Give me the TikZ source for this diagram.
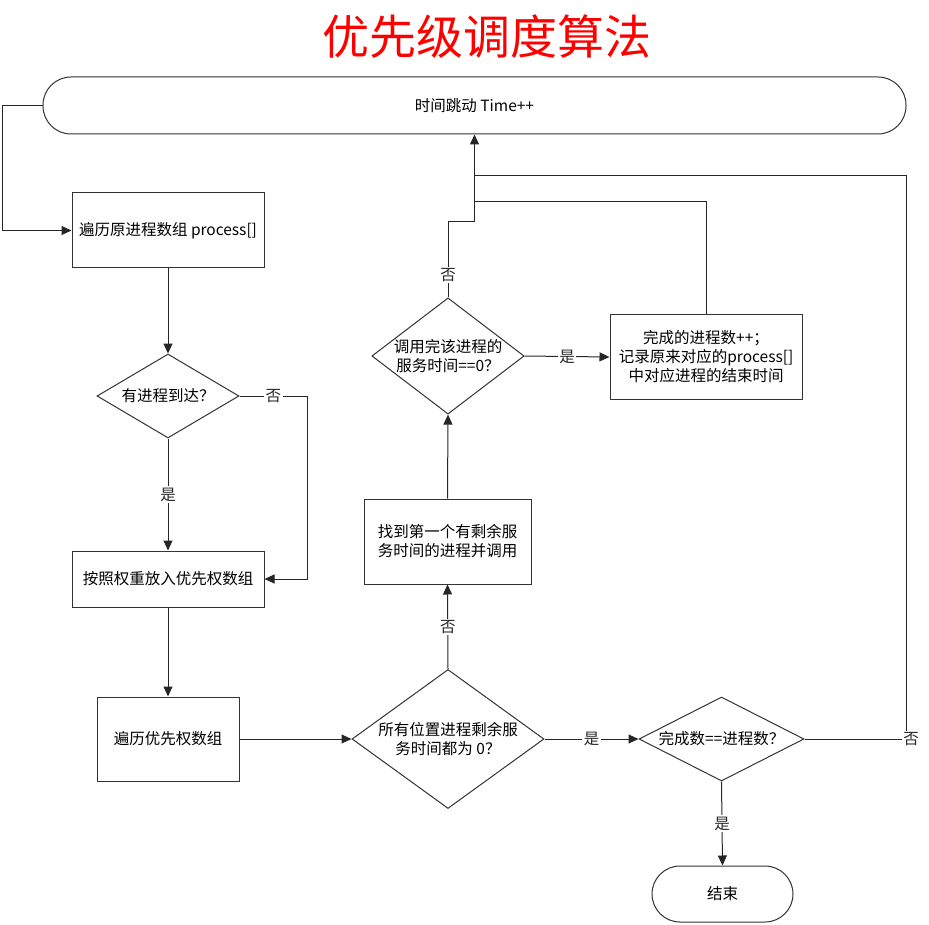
\documentclass[tikz,border=0pt]{standalone}
\usepackage{fontspec}
\setmainfont{Noto Sans CJK SC}
\usetikzlibrary{shapes.geometric,arrows.meta}
\begin{document}
\begin{tikzpicture}[x=1pt,y=-1pt,
  every node/.style={font=\fontsize{15.5}{19}\selectfont},
  box/.style={draw=black!80, line width=1pt, inner sep=0pt, align=center, rectangle},
  term/.style={draw=black!80, line width=1pt, inner sep=0pt, align=center, rectangle, rounded corners=28pt},
  dia/.style={draw=black!80, line width=1pt, inner sep=0pt, align=center, diamond},
  conn/.style={black!85, line width=1pt},
  arr/.style={conn, -{Triangle[length=10pt,width=9pt]}},
  lbl/.style={fill=white, inner sep=1.5pt}
]
\useasboundingbox (0,0) rectangle (929,925);

\node[text=red, font=\fontsize{47}{52}\selectfont] (title) at (487,37) {优先级调度算法};

\node[term, minimum width=863, minimum height=57] (t) at (474.5,105.5) {时间跳动 Time++};
\node[box, minimum width=192, minimum height=75] (b1) at (168,230.5) {遍历原进程数组 process[]};
\node[dia, minimum width=142, minimum height=84, shape aspect=1.7] (d1) at (168,396) {有进程到达？};
\node[box, minimum width=192, minimum height=56] (b2) at (168,579) {按照权重放入优先权数组};
\node[box, minimum width=142, minimum height=84] (b3) at (168,739) {遍历优先权数组};
\node[dia, minimum width=192, minimum height=139, shape aspect=1.38] (d2) at (448,739) {所有位置进程剩余服\\务时间都为 0？};
\node[box, minimum width=167, minimum height=85] (b4) at (447.5,541.5) {找到第一个有剩余服\\务时间的进程并调用};
\node[dia, minimum width=152, minimum height=116, shape aspect=1.31] (d3) at (448,356) {调用完该进程的\\服务时间==0？};
\node[box, minimum width=192, minimum height=84] (b5) at (706,357) {完成的进程数++；\\记录原来对应的process[]\\中对应进程的结束时间};
\node[dia, minimum width=165, minimum height=84, shape aspect=1.96] (d4) at (721.5,739) {完成数==进程数？};
\node[term, minimum width=141, minimum height=56] (e) at (722.5,894) {结束};

\coordinate (lc) at (2,105.5);
\coordinate (n1) at (307,396);
\coordinate (n3) at (448,222);
\coordinate (j1) at (474.5,202);
\coordinate (j2) at (474.5,176);
\coordinate (n4) at (906,739);

\draw[arr] (t.west) -- (lc) |- (b1.west);
\draw[arr] (b1.south) -- (d1.north);
\draw[arr] (d1.east) -- node[lbl]{否} (n1) |- (b2.east);
\draw[arr] (d1.south) -- node[lbl]{是} (b2.north);
\draw[arr] (b2.south) -- (b3.north);
\draw[arr] (b3.east) -- (d2.west);
\draw[arr] (d2.north) -- node[lbl]{否} (b4.south);
\draw[arr] (b4.north) -- (d3.south);
\draw[arr] (d3.north) -- node[lbl, pos=0.3]{否} (n3) -| (t.south);
\draw[arr] (d3.east) -- node[lbl]{是} (b5.west);
\draw[conn] (b5.north) |- (j1);
\draw[arr] (d2.east) -- node[lbl]{是} (d4.west);
\draw[conn] (d4.east) -- node[lbl, pos=1, xshift=5pt]{否} (n4) |- (j2);
\draw[arr] (d4.south) -- node[lbl]{是} (e.north);
\end{tikzpicture}
\end{document}
